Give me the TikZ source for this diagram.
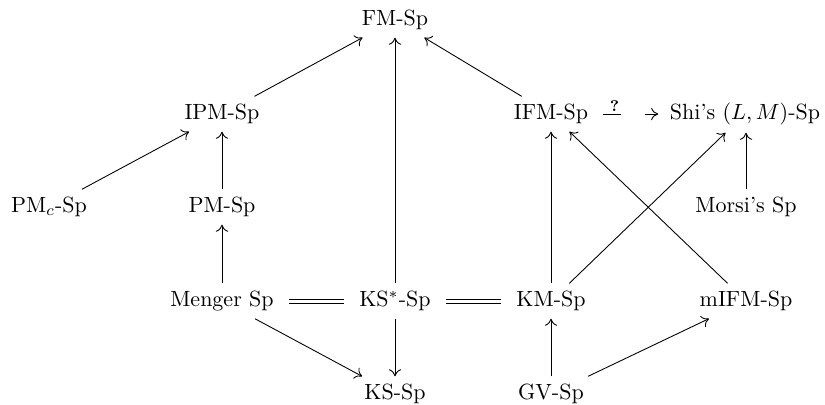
\documentclass[tikz,border=0pt]{standalone}
\usetikzlibrary{arrows.meta}
\begin{document}
\begin{tikzpicture}[x=0.4545pt,y=-0.4545pt,
  sp/.style={inner sep=3.33pt},
  tip/.style={-{To[length=3.2pt,width=5.6pt]},line width=0.4pt},
  imp/.style={tip},
  eqline/.style={line width=0.4pt,shorten <=3.6pt,shorten >=3.6pt},
  maybe/.style={tip,dash pattern=on 8.6pt off 10.5pt on 30pt,shorten <=3pt,shorten >=1.8pt}]
\useasboundingbox (0,0) rectangle (825,405);
% nodes (grid of five columns, five rows)
\node[sp] (fm)     at (395,20)  {FM-Sp};
\node[sp] (ipm)    at (222,114) {IPM-Sp};
\node[sp] (ifm)    at (551,114) {IFM-Sp};
\node[sp] (shi)    at (745,114) {Shi's $(L,M)$-Sp};
\node[sp] (pmc)    at (49,207)  {PM$_c$-Sp};
\node[sp] (pm)     at (222,207) {PM-Sp};
\node[sp] (morsi)  at (746,207) {Morsi's Sp};
\node[sp] (menger) at (222,301) {Menger Sp};
\node[sp] (kss)    at (395,301) {KS$^*$-Sp};
\node[sp] (km)     at (551,301) {KM-Sp};
\node[sp] (mifm)   at (746,301) {mIFM-Sp};
\node[sp] (ks)     at (395,394) {KS-Sp};
\node[sp] (gv)     at (551,394) {GV-Sp};
% implications
\draw[imp] (ipm) -- (fm);
\draw[imp] (kss) -- (fm);
\draw[imp] (ifm) -- (fm);
\draw[imp] (pmc) -- (ipm);
\draw[imp] (pm) -- (ipm);
\draw[imp] (menger) -- (pm);
\draw[maybe] (ifm) -- node[pos=0.28,above=0.8pt,inner sep=0pt]{\scriptsize\bfseries ?} (shi);
\draw[imp] (morsi) -- (shi.south -| morsi);
\draw[imp] (km) -- (ifm);
\draw[imp] (mifm) -- (ifm);
\draw[imp] (km) -- (shi);
\draw[imp] (menger) -- (ks);
\draw[imp] (kss) -- (ks);
\draw[imp] (gv) -- (km);
\draw[imp] (gv) -- (mifm);
% equivalences, drawn as two parallel rules
\foreach \s in {-0.9pt,0.9pt}{
  \draw[eqline] ([yshift=\s]menger.east) -- ([yshift=\s]kss.west);
  \draw[eqline] ([yshift=\s]kss.east) -- ([yshift=\s]km.west);
}
\end{tikzpicture}
\end{document}
